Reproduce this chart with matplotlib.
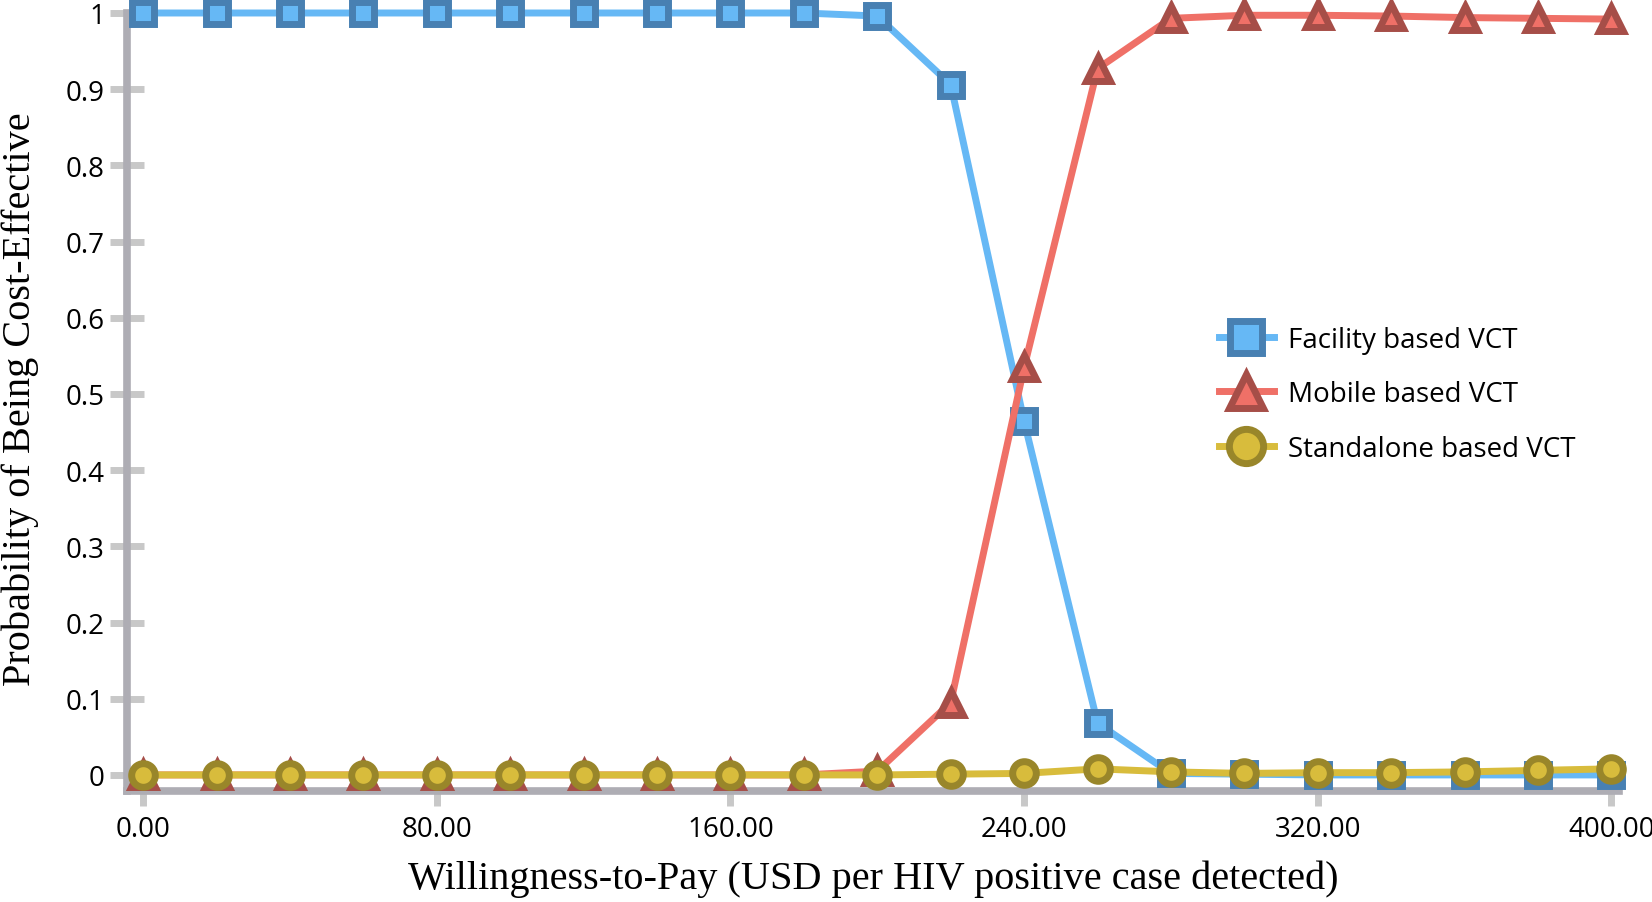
import matplotlib
matplotlib.use("Agg")
import matplotlib.pyplot as plt
import numpy as np

# Данные
wtp = [0, 20, 40, 60, 80, 100, 120, 140, 160, 180, 200, 220, 240, 260, 280, 300, 320, 340, 360, 380, 400]
facility = [1.0, 1.0, 1.0, 1.0, 1.0, 1.0, 1.0, 1.0, 1.0, 1.0, 0.996, 0.906, 0.464, 0.068, 0.002,
            0.001, 0.0, 0.0, 0.0, 0.0, 0.0]
mobile = [0.0, 0.0, 0.0, 0.0, 0.0, 0.0, 0.0, 0.0, 0.0, 0.0, 0.005, 0.095, 0.535, 0.927, 0.993,
          0.997, 0.997, 0.996, 0.994, 0.993, 0.992]
standalone = [0.0, 0.0, 0.0, 0.0, 0.0, 0.0, 0.0, 0.0, 0.0, 0.0, 0.0, 0.001, 0.002, 0.008, 0.004,
              0.002, 0.003, 0.003, 0.004, 0.006, 0.008]

x_ticks = [0, 80, 160, 240, 320, 400]
x_ticklabels = ['0.00', '80.00', '160.00', '240.00', '320.00', '400.00']
y_ticks = [0, 0.1, 0.2, 0.3, 0.4, 0.5, 0.6, 0.7, 0.8, 0.9, 1.0]
y_ticklabels = ['0', '0.1', '0.2', '0.3', '0.4', '0.5', '0.6', '0.7', '0.8', '0.9', '1']

series = [
    ('Facility based VCT', facility, 's', '#66B8F5', '#4880B2', 16),
    ('Mobile based VCT', mobile, '^', '#EF7067', '#A64E48', 17),
    ('Standalone based VCT', standalone, 'o', '#D8BC3C', '#99862A', 17),
]

fig = plt.figure(figsize=(16.52, 9.03), dpi=100)
ax = fig.add_axes([0.0769, 0.123, 0.903, 0.8615])

for name, vals, mk, col, edge, ms in series:
    ax.plot(wtp, vals, '-', color=col, linewidth=5, marker=mk, markersize=ms,
            markerfacecolor=col, markeredgecolor=edge, markeredgewidth=5,
            label=name, clip_on=False, zorder=3)

ax.set_xlim(-4.4, 402)
ax.set_ylim(-0.021, 1.0)

ax.set_xticks(x_ticks)
ax.set_xticklabels(x_ticklabels)
ax.set_yticks(y_ticks)
ax.set_yticklabels(y_ticklabels)

for s in ['top', 'right']:
    ax.spines[s].set_visible(False)
for s in ['left', 'bottom']:
    ax.spines[s].set_color('#AEADB4')
    ax.spines[s].set_linewidth(5.5)

ax.tick_params(axis='y', direction='inout', length=24, width=5, color='#C8C8C8',
               labelsize=20, pad=4)
ax.tick_params(axis='x', direction='out', length=11, width=5, color='#C8C8C8',
               labelsize=20, pad=6)
for lab in ax.get_xticklabels() + ax.get_yticklabels():
    lab.set_family('Open Sans')

ax.set_xlabel('Willingness-to-Pay (USD per HIV positive case detected)',
              family='Liberation Serif', fontsize=29, labelpad=12)
ax.set_ylabel('Probability of Being Cost-Effective',
              family='Liberation Serif', fontsize=29)
ax.yaxis.set_label_coords(-0.059, 0.505)

leg = ax.legend(loc='upper left', bbox_to_anchor=(0.715, 0.63), frameon=False,
                prop={'family': 'Open Sans', 'size': 20}, markerscale=1.45,
                handlelength=2.0, labelspacing=0.95, handletextpad=0.5)

fig.savefig('out.png', dpi=100)
